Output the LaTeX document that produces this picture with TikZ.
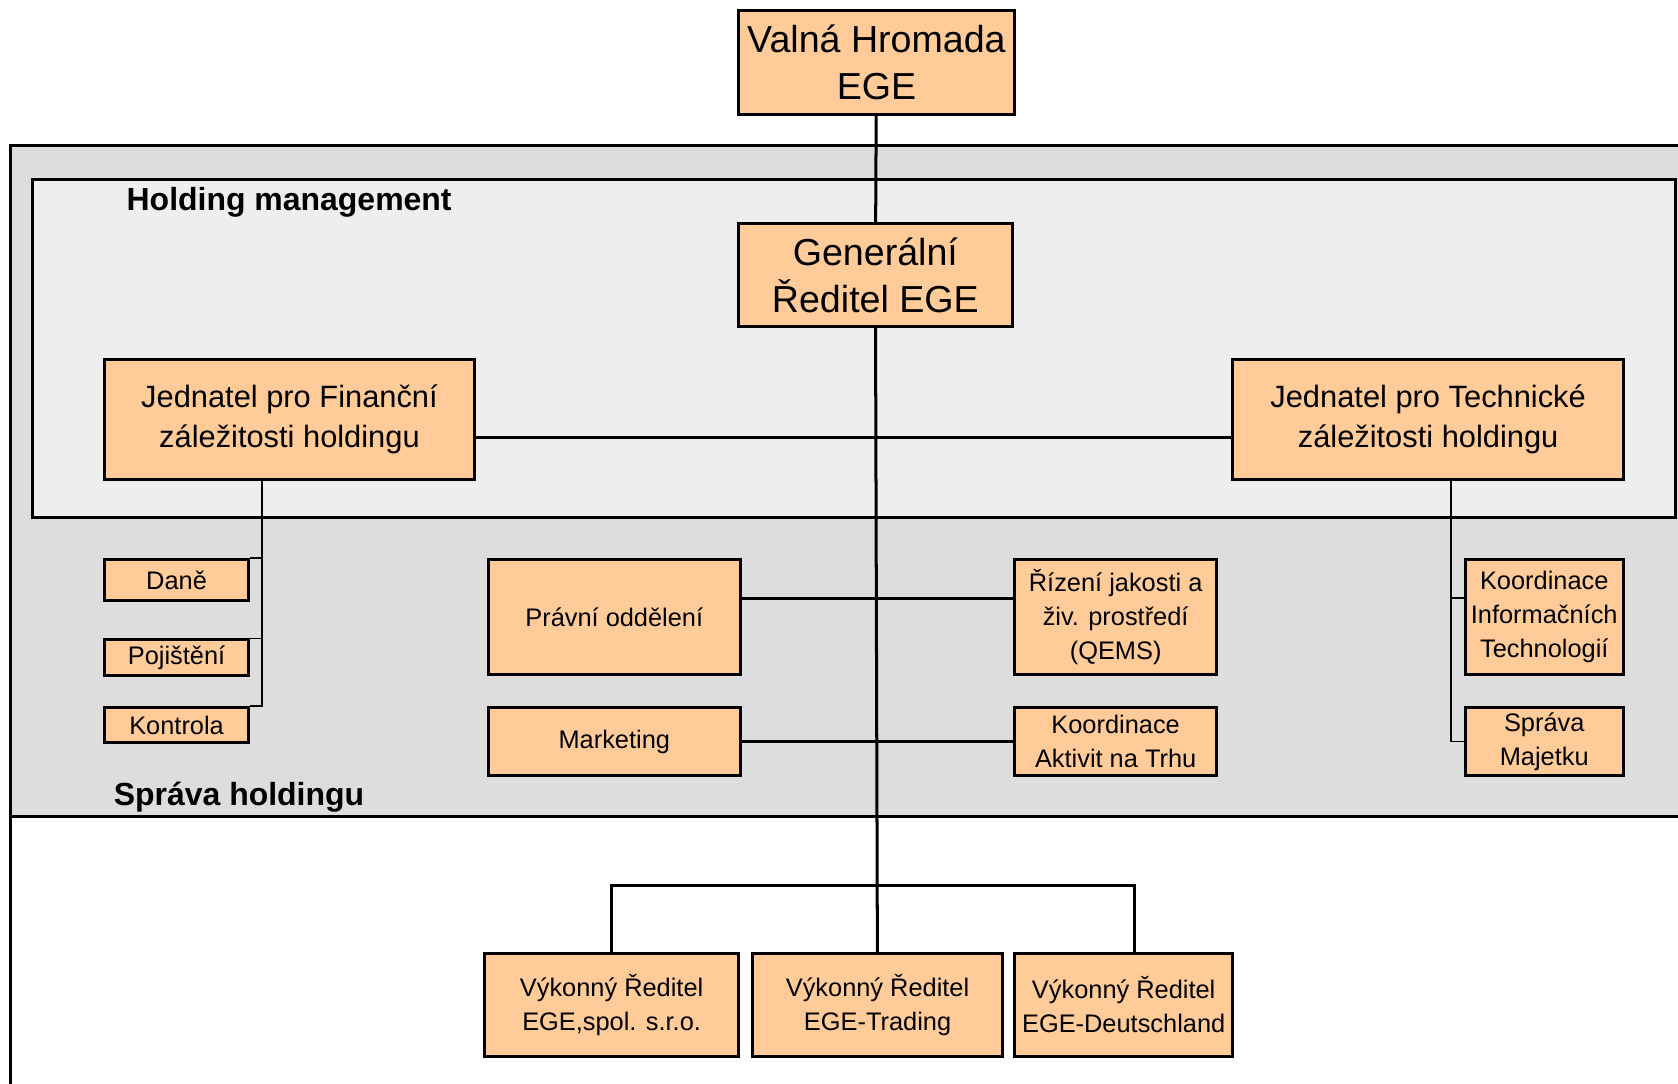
\documentclass[tikz,border=0pt]{standalone}
\usepackage{fontspec}
\setmainfont{Liberation Sans}
\usetikzlibrary{positioning}
\definecolor{peach}{RGB}{255,204,153}
\definecolor{outergray}{RGB}{221,221,221}
\definecolor{innergray}{RGB}{238,238,238}

\begin{document}
\begin{tikzpicture}[x=0.02cm, y=-0.02cm,
  unit/.style={draw, fill=peach, line width=1.6pt, rectangle, inner sep=0pt, align=center},
  big/.style={unit, font=\fontsize{20}{25}\selectfont},
  mid/.style={unit, font=\fontsize{16.4}{21}\selectfont},
  small/.style={unit, font=\fontsize{13.5}{18}\selectfont},
  title/.style={anchor=west, inner sep=0pt, font=\fontsize{17}{20}\selectfont\bfseries},
  link/.style={line width=1.6pt},
  branch/.style={line width=0.8pt},
  frame/.style={line width=1.6pt}]
\useasboundingbox (0,0) rectangle (1568,1012);

% frames
\fill[outergray] (10,136) rectangle (1600,763);
\draw[frame] (1600,136) -- (10,136) -- (10,1030);
\draw[frame] (10,763) -- (1600,763);
\filldraw[frame, fill=innergray] (30,168) rectangle (1566,484);
\node[title] (holding) at (118,189) {Holding management};
\node[title] (sprava) at (106,745) {Správa holdingu};

% top
\node[big, minimum width=5.16cm, minimum height=1.94cm] (valna) at (819,58.5) {Valná Hromada\\EGE};
\node[big, minimum width=5.12cm, minimum height=1.92cm] (gen) at (818,257) {Generální\\Ředitel EGE};
\node[mid, minimum width=6.9cm, minimum height=2.24cm] (fin) at (270.5,392) {Jednatel pro Finanční\\záležitosti holdingu};
\node[mid, minimum width=7.3cm, minimum height=2.24cm] (tech) at (1334.5,392) {Jednatel pro Technické\\záležitosti holdingu};

% left column
\node[small, minimum width=2.68cm, minimum height=0.76cm] (dane) at (165,542) {Daně};
\node[small, minimum width=2.68cm, minimum height=0.66cm] (pojisteni) at (165,614.5) {Pojištění};
\node[small, minimum width=2.68cm, minimum height=0.66cm] (kontrola) at (165,677.5) {Kontrola};

% middle
\node[small, minimum width=4.72cm, minimum height=2.14cm] (pravni) at (574,576.5) {Právní oddělení};
\node[small, minimum width=4.72cm, minimum height=1.28cm] (marketing) at (574,693) {Marketing};
\node[small, minimum width=3.78cm, minimum height=2.14cm] (rizeni) at (1042.5,576.5) {Řízení jakosti a\\živ. prostředí\\(QEMS)};
\node[small, minimum width=3.78cm, minimum height=1.28cm] (aktivit) at (1042.5,693) {Koordinace\\Aktivit na Trhu};

% right column
\node[small, minimum width=2.96cm, minimum height=2.14cm] (info) at (1443,576.5) {Koordinace\\Informačních\\Technologií};
\node[small, minimum width=2.96cm, minimum height=1.28cm] (majetek) at (1443,693) {Správa\\Majetku};

% bottom
\node[small, minimum width=4.74cm, minimum height=1.92cm] (spol) at (571.5,939) {Výkonný Ředitel\\EGE,spol. s.r.o.};
\node[small, minimum width=4.68cm, minimum height=1.92cm] (trading) at (820,939) {Výkonný Ředitel\\EGE-Trading};
\node[small, minimum width=4.08cm, minimum height=1.92cm] (deutsch) at (1050,939) {Výkonný Ředitel\\EGE-Deutschland};

% connectors
\draw[link] (valna) -- (gen);
\draw[link] (gen) -- (trading);
\draw[link] (fin.east |- 0,409) -- (tech.west |- 0,409);
\draw[link] (pravni.east |- 0,559) -- (rizeni.west |- 0,559);
\draw[link] (marketing) -- (aktivit);
\foreach \n in {dane,pojisteni,kontrola}
  \draw[branch] (fin.south -| 245,0) |- (\n.north east);
\draw[branch] (tech.south -| 1356,0) |- (info.west |- 0,559);
\draw[branch] (tech.south -| 1356,0) |- (majetek.west);
\coordinate (bus) at (820,827);
\draw[link] (spol.north) |- (bus) -| (deutsch.north -| 1060,0);
\end{tikzpicture}
\end{document}
